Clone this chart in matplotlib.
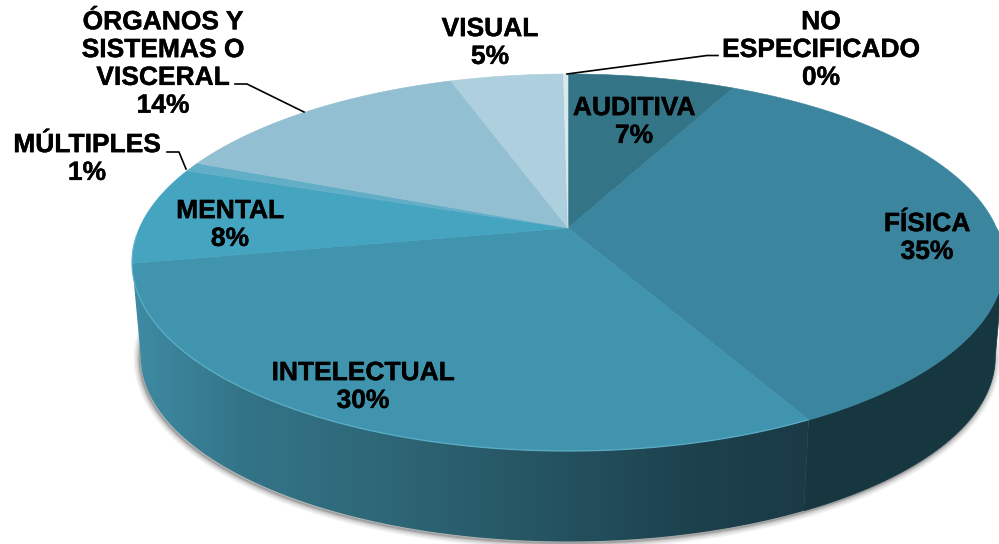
import numpy as np
import matplotlib
matplotlib.use('Agg')
import matplotlib.pyplot as plt
import matplotlib.patheffects as pe
from matplotlib.colors import LinearSegmentedColormap
from matplotlib.patches import Polygon

# Porcentajes (en sentido horario desde arriba)
categorias = ['AUDITIVA', 'FÍSICA', 'INTELECTUAL', 'MENTAL', 'MÚLTIPLES',
              'ÓRGANOS Y\nSISTEMAS O\nVISCERAL', 'VISUAL', 'NO\nESPECIFICADO']
valores = [7.4, 34.8, 29.8, 8.4, 0.8, 13.6, 5.0, 0.2]
colores = ['#347487', '#3b859f', '#4194ae', '#45a4c0', '#62aec7', '#92bfd2', '#aecfdd', '#dbe9ee']

# Centro de cada etiqueta en pixeles
pos_etiquetas = [(634, 122), (927, 238), (363, 387), (230, 225), (87, 159),
                 (163, 64), (490, 43), (821, 50)]

# Lineas guia: MULTIPLES, ORGANOS, NO ESPECIFICADO
guias = [[(167, 152), (179, 152), (186, 169)],
         [(235, 84), (247, 84), (304, 112)],
         [(567, 74), (707, 55.5), (718, 55.5)]]

# Proyeccion en perspectiva del circulo
CX, CY = 568, 228
RX, RY = 428.6, 182.2
K = 0.183
ESCALA_BASE = 0.98
CY_BASE = 323


def proyectar(theta, escala=1.0, cy=CY):
    """Pasa un angulo (grados, horario desde arriba) a pixeles."""
    t = np.radians(theta)
    w = 1 + K * np.cos(t)
    x = CX + escala * RX * np.sin(t) / w
    y = cy - escala * RY * np.cos(t) / w
    return x, y


def lado(t1, t2):
    """Contorno de la pared lateral entre dos angulos."""
    th = np.linspace(t1, t2, 150)
    x1, y1 = proyectar(th)
    x2, y2 = proyectar(th[::-1], ESCALA_BASE, CY_BASE)
    return np.column_stack([np.r_[x1, x2], np.r_[y1, y2]])


fig = plt.figure(figsize=(9.99, 5.44), dpi=100)
ax = fig.add_axes([0, 0, 1, 1])

cum = np.cumsum([0] + valores)
angulos = cum / cum[-1] * 360
izq = 259.5
der = 100.5

# Sombra bajo la base
th = np.linspace(der - 8, izq + 8, 300)
xs, ys = proyectar(th, ESCALA_BASE, CY_BASE)
for lw, al in [(9, 0.05), (7, 0.07), (5, 0.09), (3, 0.13), (1.5, 0.2)]:
    ax.plot(xs - 1, ys + 1.5, color='#303030', lw=lw, alpha=al, zorder=1, solid_capstyle='round')

# Pared lateral: degradado en INTELECTUAL y color plano en FISICA
fin_fisica = angulos[2]
cmap = LinearSegmentedColormap.from_list('lado', [(0, '#3e8ba3'), (0.16, '#347488'), (0.39, '#2d6676'),
                                                  (0.57, '#275765'), (0.84, '#1c414d'), (1, '#1a3a46')])
img = ax.imshow(np.linspace(0, 1, 400).reshape(1, -1), cmap=cmap, extent=(132, 808, 544, 250),
                aspect='auto', zorder=2, interpolation='bilinear')
img.set_clip_path(Polygon(lado(fin_fisica, izq), transform=ax.transData))
ax.add_patch(Polygon(lado(der, fin_fisica), closed=True, fc='#163640', ec='#163640', lw=0.5, zorder=2))

# Cara superior
for i, color in enumerate(colores):
    th = np.linspace(angulos[i], angulos[i + 1], 120)
    x, y = proyectar(th)
    pts = np.column_stack([np.r_[CX, x], np.r_[CY, y]])
    ax.add_patch(Polygon(pts, closed=True, fc=color, ec=color, lw=0.4, zorder=3))

# Brillo del borde delantero
th = np.linspace(fin_fisica, izq + 8, 200)
x, y = proyectar(th)
ax.plot(x, y, color='#62b6d0', lw=1.0, alpha=0.65, zorder=4)
th = np.linspace(der - 10, fin_fisica, 100)
x, y = proyectar(th)
ax.plot(x, y, color='#3b859f', lw=1.0, zorder=4)

# Etiquetas
trazo = [pe.withStroke(linewidth=0.3, foreground='black')]
for nombre, v, (ex, ey) in zip(categorias, valores, pos_etiquetas):
    ax.text(ex, ey, f'{nombre}\n{round(v)}%', ha='center', va='center', fontsize=19,
            family='Liberation Sans', fontweight='bold', color='black', linespacing=1.2,
            path_effects=trazo, zorder=6)

for g in guias:
    ax.plot([p[0] for p in g], [p[1] for p in g], color='black', lw=1.2, zorder=5)

ax.set_xlim(0, 999)
ax.set_ylim(544, 0)
ax.axis('off')
fig.savefig('out.png', dpi=100)
